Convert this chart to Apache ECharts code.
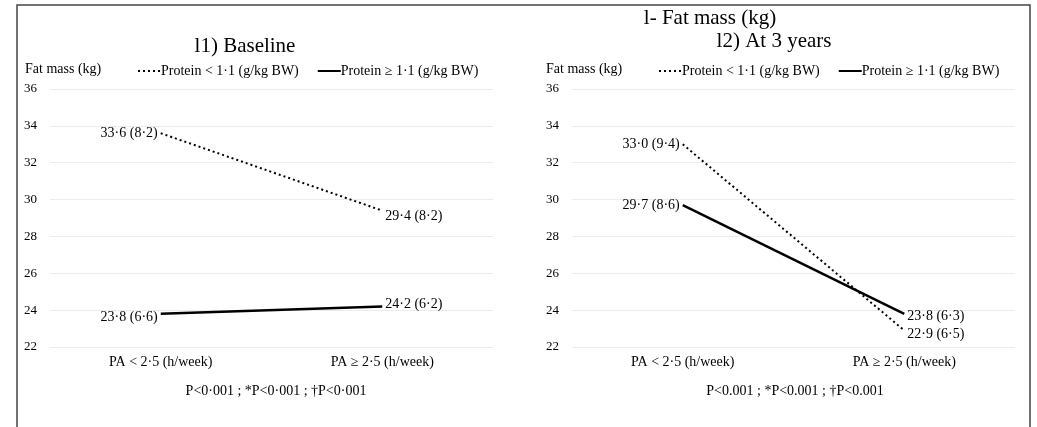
<!DOCTYPE html>
<html>
<head>
<meta charset="utf-8">
<script src="https://cdn.jsdelivr.net/npm/echarts@6/dist/echarts.min.js"></script>
<style>
  html, body { margin: 0; padding: 0; background: #fff; }
  #chart { width: 1037px; height: 427px; }
</style>
</head>
<body>
<div id="chart"></div>
<script>
// categories on the x axis
const categories = ['PA < 2·5 (h/week)', 'PA ≥ 2·5 (h/week)'];
const yTicks = [22, 24, 26, 28, 30, 32, 34, 36];

// l1) baseline: mean (sd)
const baseLowMean = [33.6, 29.4];
const baseLowSd = [8.2, 8.2];
const baseHighMean = [23.8, 24.2];
const baseHighSd = [6.6, 6.2];

// l2) at 3 years: mean (sd)
const yr3LowMean = [33.0, 22.9];
const yr3LowSd = [9.4, 6.5];
const yr3HighMean = [29.7, 23.8];
const yr3HighSd = [8.6, 6.3];

const seriesNames = ['Protein < 1·1 (g/kg BW)', 'Protein ≥ 1·1 (g/kg BW)'];
const font = 'Liberation Serif, Times New Roman, serif';

// 33.6 -> "33·6"
function dot(v) {
  return v.toFixed(1).replace('.', '·');
}

// each point gets its "mean (sd)" label, left point on the left, right point on the right
function points(means, sds, offsets) {
  return means.map((m, i) => ({
    value: m,
    label: {
      formatter: dot(m) + ' (' + dot(sds[i]) + ')',
      position: i === 0 ? 'left' : 'right',
      offset: offsets ? offsets[i] : [0, 0]
    }
  }));
}

function lineSeries(name, idx, data, dotted) {
  return {
    name: name,
    type: 'line',
    xAxisIndex: idx,
    yAxisIndex: idx,
    symbol: 'circle',
    symbolSize: 0,
    showSymbol: true,
    silent: true,
    lineStyle: {
      color: '#000',
      width: dotted ? 2 : 2.5,
      type: dotted ? [2, 3] : 'solid'
    },
    itemStyle: { color: '#000' },
    label: {
      show: true,
      color: '#000',
      fontFamily: font,
      fontSize: 14,
      distance: 3
    },
    data: data
  };
}

function xAxis(idx) {
  return {
    type: 'category',
    gridIndex: idx,
    data: categories,
    boundaryGap: true,
    axisLine: { show: false },
    axisTick: { show: false },
    axisLabel: { color: '#000', fontFamily: font, fontSize: 14, margin: 8 }
  };
}

function yAxis(idx) {
  return {
    type: 'value',
    gridIndex: idx,
    min: yTicks[0],
    max: yTicks[yTicks.length - 1],
    interval: 2,
    axisLine: { show: false },
    axisTick: { show: false },
    axisLabel: { color: '#000', fontFamily: font, fontSize: 13, margin: 13 },
    splitLine: { lineStyle: { color: '#ececec', width: 1 } }
  };
}

function legend(left) {
  return {
    left: left,
    top: 59,
    itemWidth: 23,
    itemHeight: 10,
    itemGap: 18,
    selectedMode: false,
    itemStyle: { color: 'transparent', borderWidth: 0, opacity: 0 },
    data: seriesNames,
    textStyle: { color: '#000', fontFamily: font, fontSize: 14, padding: [0, 0, 0, -5] }
  };
}

function text(t, left, top, size, align) {
  return {
    text: t,
    left: left,
    top: top,
    textAlign: align || 'left',
    textStyle: { color: '#000', fontFamily: font, fontSize: size, fontWeight: 'normal' }
  };
}

const chart = echarts.init(document.getElementById('chart'));

chart.setOption({
  backgroundColor: '#fff',
  animation: false,
  title: [
    text('l1) Baseline', 240, 31, 21, 'center'),
    text('l- Fat mass (kg)', 705, 3, 21, 'center'),
    text('l2) At 3 years', 769, 26, 21, 'center'),
    text('Fat mass (kg)', 20, 57, 14),
    text('Fat mass (kg)', 541, 57, 14),
    text('P<0·001 ; *P<0·001 ; †P<0·001', 271, 379, 14, 'center'),
    text('P<0.001 ; *P<0.001 ; †P<0.001', 790, 379, 14, 'center')
  ],
  legend: [legend(132), legend(653)],
  grid: [
    { left: 50, right: 544, top: 89, bottom: 80 },
    { left: 572, right: 22, top: 89, bottom: 80 }
  ],
  xAxis: [xAxis(0), xAxis(1)],
  yAxis: [yAxis(0), yAxis(1)],
  series: [
    lineSeries(seriesNames[0], 0, points(baseLowMean, baseLowSd, [[0, 0], [0, 6]]), true),
    lineSeries(seriesNames[1], 0, points(baseHighMean, baseHighSd, [[0, 3], [0, -2]]), false),
    lineSeries(seriesNames[0], 1, points(yr3LowMean, yr3LowSd, [[0, 0], [0, 4]]), true),
    lineSeries(seriesNames[1], 1, points(yr3HighMean, yr3HighSd, [[0, 0], [0, 2]]), false)
  ],
  graphic: [
    {
      type: 'polyline',
      silent: true,
      shape: { points: [[17, 440], [17, 5], [1030, 5], [1030, 440]] },
      style: { stroke: '#444', lineWidth: 1.5, fill: null }
    }
  ]
});
</script>
</body>
</html>
